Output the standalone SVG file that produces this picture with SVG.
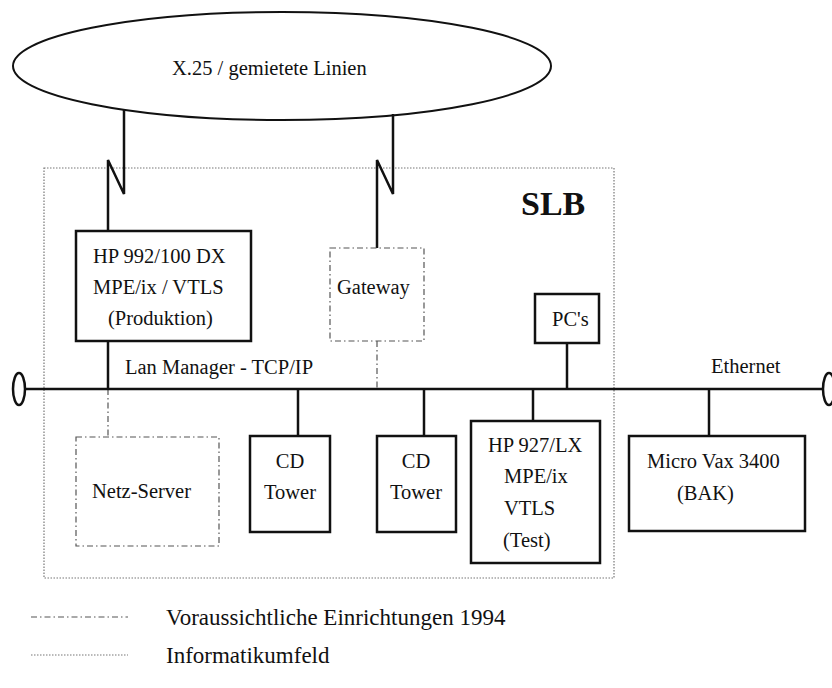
<svg xmlns="http://www.w3.org/2000/svg" width="832" height="688" viewBox="0 0 832 688">
<style>
text{font-family:"Liberation Serif","Times New Roman",serif;font-size:20.5px;fill:#111}
text.title{font-size:34px;font-weight:bold}
text.leg{font-size:23px}
.solid{fill:#fff;stroke:#111;stroke-width:2.5}
.plan{fill:#fff;stroke:#555;stroke-width:1.2;stroke-dasharray:6 3 1.5 3}
.area{fill:none;stroke:#777;stroke-width:1.2;stroke-dasharray:1.5 1.5}
.wire{fill:none;stroke:#111;stroke-width:2.5}
.pwire{fill:none;stroke:#555;stroke-width:1.2;stroke-dasharray:6 3 1.5 3}
</style>
<rect width="832" height="688" fill="#fff"/>
<rect id="slb-area" class="area" x="44" y="168" width="570" height="410"/>
<text class="title" x="521" y="215">SLB</text>
<g id="x25">
<ellipse cx="282" cy="66" rx="269" ry="54" fill="#fff" stroke="#111" stroke-width="2"/>
<text x="172" y="75">X.25 / gemietete Linien</text>
</g>
<g id="connectors">
<path class="wire" d="M124,109 V194 L108,160 V231"/>
<path class="wire" d="M393,114 V194 L377,160 V248"/>
<path class="wire" d="M108,341 V389"/>
<path class="pwire" d="M377,341 V389"/>
<path class="pwire" d="M108,389 V437"/>
<path class="wire" d="M25,389 H822"/>
<path class="wire" d="M567,343 V389"/>
<path class="wire" d="M298,389 V436"/>
<path class="wire" d="M424,389 V436"/>
<path class="wire" d="M533,389 V421"/>
<path class="wire" d="M709,389 V436"/>
<ellipse cx="19" cy="389" rx="6" ry="16" fill="#fff" stroke="#111" stroke-width="2.5"/>
<ellipse cx="829" cy="389" rx="6" ry="16" fill="#fff" stroke="#111" stroke-width="2.5"/>
<text x="125" y="374">Lan Manager - TCP/IP</text>
<text x="711" y="373">Ethernet</text>
</g>
<g id="hp992">
<rect class="solid" x="76" y="231" width="175" height="110"/>
<text x="93" y="263">HP 992/100 DX</text>
<text x="93" y="294">MPE/ix / VTLS</text>
<text x="108" y="325">(Produktion)</text>
</g>
<g id="gateway">
<rect class="plan" x="330" y="248" width="94" height="93"/>
<text x="337" y="294">Gateway</text>
</g>
<g id="pcs">
<rect class="solid" x="535" y="294" width="64" height="49"/>
<text x="552" y="326">PC's</text>
</g>
<g id="netz-server">
<rect class="plan" x="76" y="437" width="143" height="109"/>
<text x="92" y="498">Netz-Server</text>
</g>
<g id="cd-tower-1">
<rect class="solid" x="250" y="436" width="80" height="96"/>
<text x="290" y="468" text-anchor="middle">CD</text>
<text x="290" y="499" text-anchor="middle">Tower</text>
</g>
<g id="cd-tower-2">
<rect class="solid" x="377" y="436" width="79" height="96"/>
<text x="416" y="468" text-anchor="middle">CD</text>
<text x="416" y="499" text-anchor="middle">Tower</text>
</g>
<g id="hp927">
<rect class="solid" x="471" y="421" width="129" height="142"/>
<text x="488" y="452">HP 927/LX</text>
<text x="504" y="483">MPE/ix</text>
<text x="504" y="515">VTLS</text>
<text x="503" y="547">(Test)</text>
</g>
<g id="microvax">
<rect class="solid" x="629" y="436" width="176" height="95"/>
<text x="647" y="468">Micro Vax 3400</text>
<text x="677" y="500">(BAK)</text>
</g>
<g id="legend">
<line class="pwire" x1="31" y1="617" x2="128" y2="617"/>
<text class="leg" x="166" y="625">Voraussichtliche Einrichtungen 1994</text>
<line class="area" x1="31" y1="655" x2="128" y2="655"/>
<text class="leg" x="166" y="663">Informatikumfeld</text>
</g>
</svg>
